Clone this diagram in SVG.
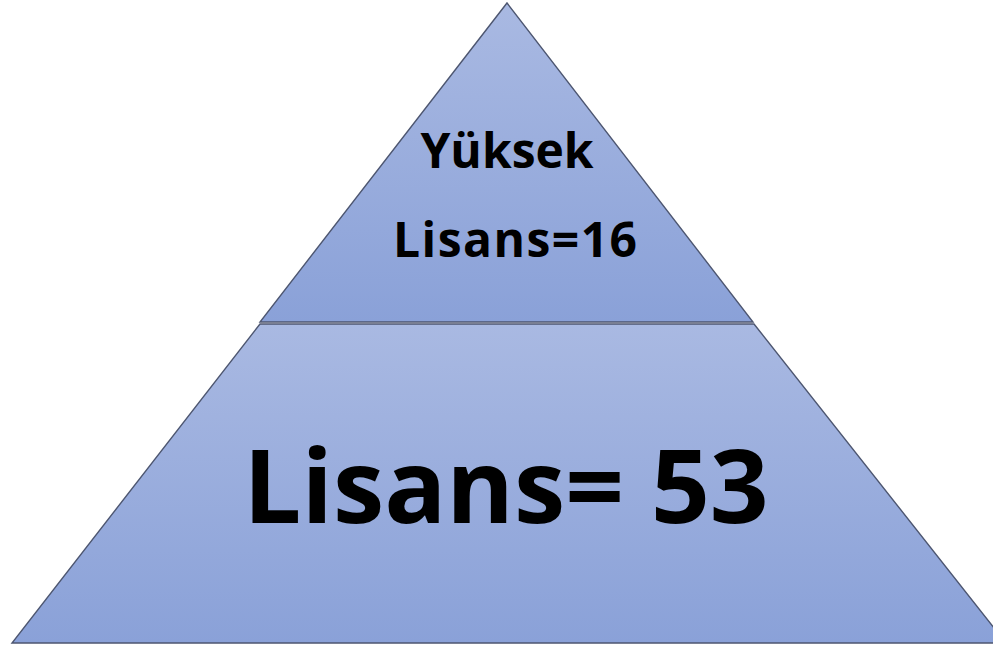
<svg xmlns="http://www.w3.org/2000/svg" width="993" height="648" viewBox="0 0 993 648">
<defs>
<linearGradient id="gTop" x1="0" y1="0" x2="0" y2="1">
<stop offset="0" stop-color="#a9b9e2"/>
<stop offset="1" stop-color="#8aa1d8"/>
</linearGradient>
<linearGradient id="gBot" x1="0" y1="0" x2="0" y2="1">
<stop offset="0" stop-color="#a9b9e2"/>
<stop offset="1" stop-color="#8aa1d8"/>
</linearGradient>
<style>
.shape{stroke:#4d5670;stroke-width:1.4;}
.t{font-family:"Open Sans","Noto Sans","Liberation Sans",sans-serif;font-weight:bold;fill:#000;text-anchor:middle;}
</style>
</defs>
<g id="top">
<polygon class="shape" fill="url(#gTop)" points="507,3 753,322 260,322"/>
<text class="t" x="507" y="168" font-size="48">Yüksek</text>
<text class="t" x="515" y="257" font-size="48" textLength="244" lengthAdjust="spacing">Lisans=16</text>
</g>
<g id="bottom">
<polygon class="shape" fill="url(#gBot)" points="260,324 754,324 1006,643 12,643"/>
<text class="t" x="506" y="523" font-size="103">Lisans= 53</text>
</g>
<g id="connectors"/>
</svg>
